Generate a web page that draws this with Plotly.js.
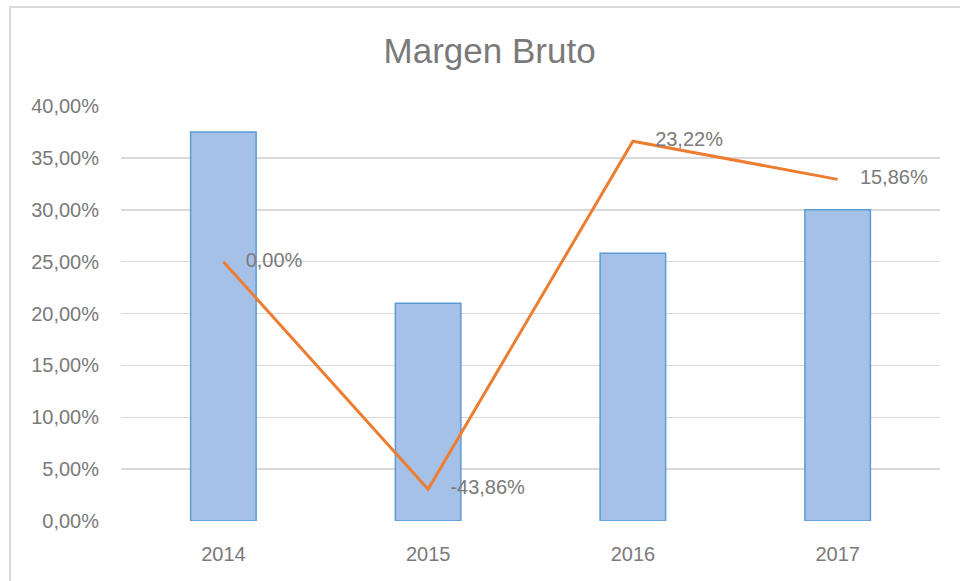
<!DOCTYPE html>
<html>
<head>
<meta charset="utf-8">
<script src="https://cdn.plot.ly/plotly-3.0.1.min.js"></script>
<style>
html,body{margin:0;padding:0;background:#fff;}
#wrap{position:relative;width:960px;height:581px;overflow:hidden;}
#chart{width:960px;height:581px;}
#frame{position:absolute;left:9px;top:6px;width:1000px;height:700px;border-left:2px solid #d9d9d9;border-top:2px solid #d9d9d9;pointer-events:none;}
</style>
</head>
<body>
<div id="wrap"><div id="chart"></div><div id="frame"></div></div>
<script>
const years = ['2014', '2015', '2016', '2017'];
const margenBruto = [0.375, 0.210, 0.258, 0.300];
const variacion = [0.0, -0.4386, 0.2322, 0.1586];
const yTickVals = [0, 0.05, 0.10, 0.15, 0.20, 0.25, 0.30, 0.35, 0.40];

function pct(v){ return (v*100).toFixed(2).replace('.', ',') + '%'; }

const font = 'Liberation Sans, Arial, sans-serif';
const grey = '#7a7a7a';

const bars = {
  type: 'bar', x: years, y: margenBruto,
  marker: {color: '#a5c1e7', line: {color: '#5b9bd5', width: 1.5}},
  hoverinfo: 'skip', showlegend: false
};
const line = {
  type: 'scatter', mode: 'lines+markers+text', x: years, y: variacion, yaxis: 'y2',
  line: {color: '#ed7d31', width: 3},
  marker: {size: 34, color: 'rgba(0,0,0,0)'},
  text: variacion.map(pct), textposition: 'middle right',
  textfont: {family: font, size: 20, color: grey},
  cliponaxis: false, hoverinfo: 'skip', showlegend: false
};

const layout = {
  width: 960, height: 581,
  margin: {l: 121, r: 20, t: 106, b: 60},
  paper_bgcolor: '#fff', plot_bgcolor: '#fff',
  separators: ',.',
  title: {text: 'Margen Bruto', font: {family: font, size: 35, color: grey}, x: 0.51, xanchor: 'center', y: 0.913, yanchor: 'middle'},
  bargap: 0.68,
  xaxis: {type: 'category', showgrid: false, zeroline: false, showline: false, ticks: '',
          tickfont: {family: font, size: 20, color: grey}, ticklabelstandoff: 19},
  yaxis: {range: [0, 0.40], tickvals: yTickVals, ticktext: yTickVals.map(pct),
          showgrid: true, gridcolor: '#d9d9d9', gridwidth: 1.5, zeroline: false, showline: false, ticks: '',
          tickfont: {family: font, size: 20, color: grey}, ticklabelstandoff: 21},
  yaxis2: {range: [-0.5, 0.3], overlaying: 'y', visible: false, showgrid: false}
};

Plotly.newPlot('chart', [bars, line], layout, {staticPlot: true, displayModeBar: false});
</script>
</body>
</html>
